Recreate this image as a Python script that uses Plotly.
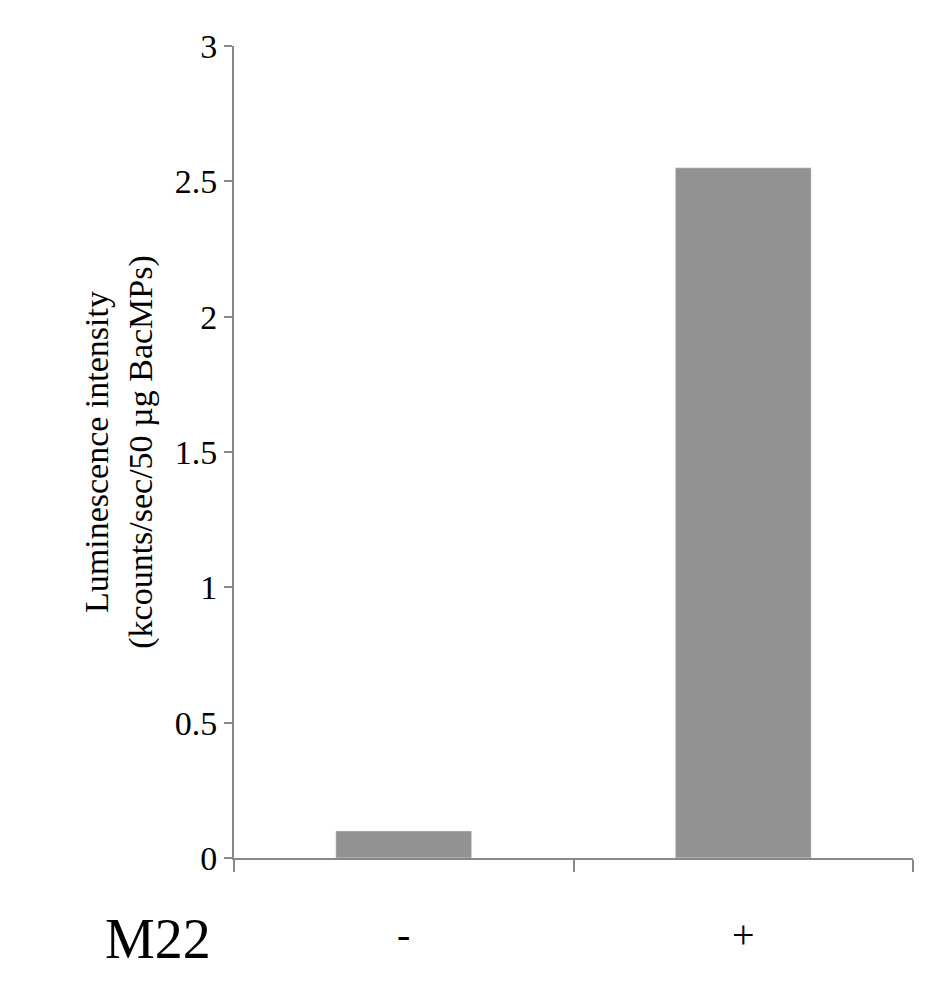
import plotly.graph_objects as go

categories = ["-", "+"]
values = [0.10, 2.55]

fig = go.Figure(go.Bar(x=categories, y=values, marker_color="#929292", width=0.4))
font = dict(family="Liberation Serif", size=34, color="black")
fig.update_layout(
    width=945, height=984, plot_bgcolor="white", paper_bgcolor="white",
    margin=dict(l=226, r=40, t=38, b=134), font=font, showlegend=False,
    yaxis=dict(range=[0, 3], tickvals=[0, 0.5, 1, 1.5, 2, 2.5, 3],
               ticktext=["0", "0.5", "1", "1.5", "2", "2.5", "3"],
               showgrid=False, showline=True, linecolor="#888", linewidth=2,
               ticks="outside", ticklen=8, tickcolor="#888", tickwidth=2,
               tickfont=dict(size=34),
               title=dict(text="Luminescence intensity<br>(kcounts/sec/50 µg BacMPs)", standoff=12,
                          font=dict(size=34))),
    xaxis=dict(showline=True, linecolor="#888", linewidth=2, ticks="outside",
               tickson="boundaries", ticklen=12, tickcolor="#888", tickwidth=2,
               tickfont=dict(size=40), ticklabelstandoff=40),
    annotations=[dict(text="M22", xref="paper", yref="paper",
                      x=(150 - 226) / 679, y=-(938 - 857) / 812,
                      xanchor="center", yanchor="middle", showarrow=False,
                      font=dict(family="Liberation Serif", size=56, color="black"))],
)
fig.write_html("out.html")
